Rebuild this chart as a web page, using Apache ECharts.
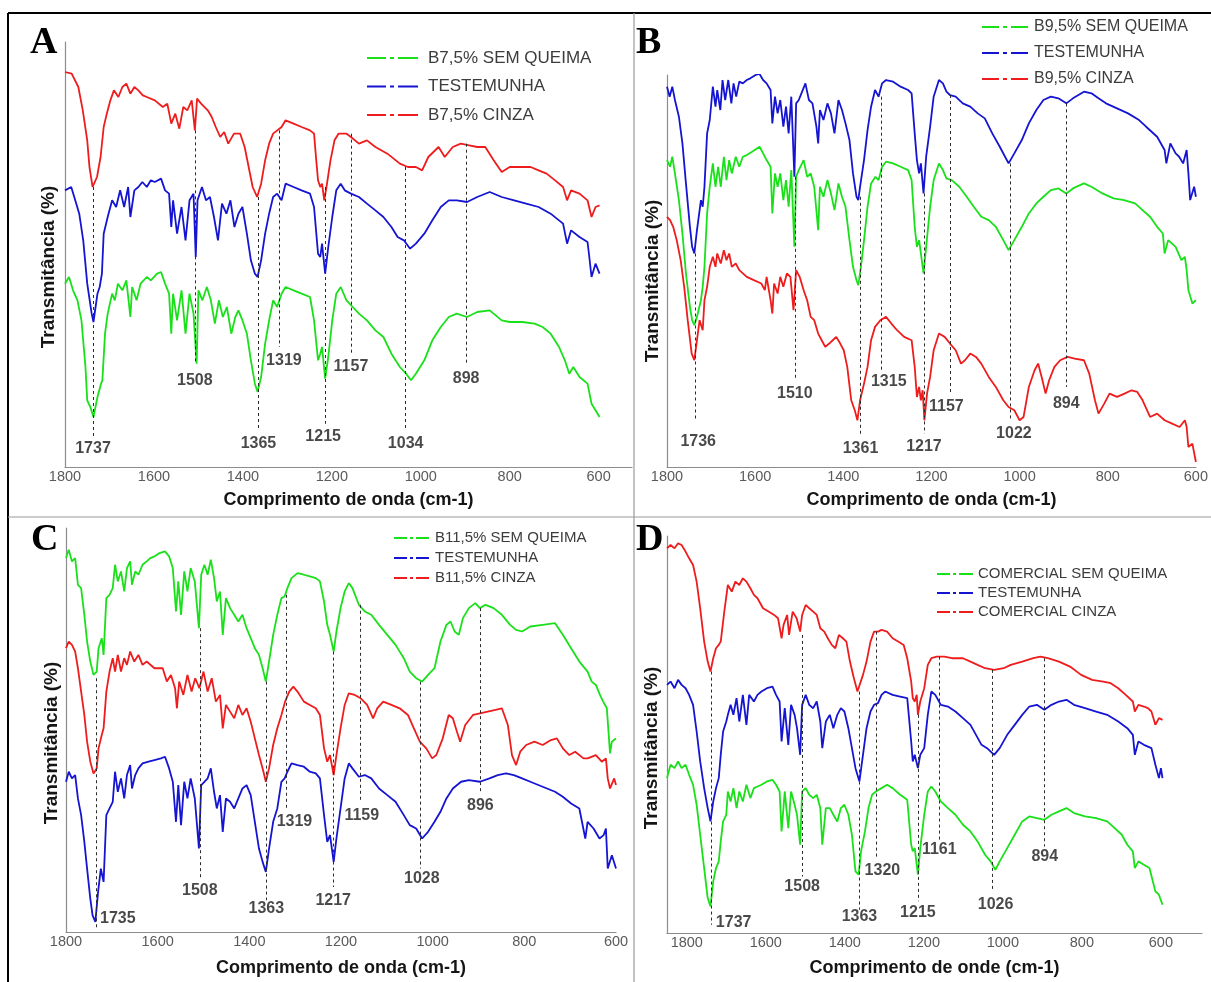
<!DOCTYPE html>
<html>
<head>
<meta charset="utf-8">
<title>FTIR - Transmitância</title>
<script src="https://cdn.jsdelivr.net/npm/echarts@6/dist/echarts.min.js"></script>
<style>
  html, body { margin: 0; padding: 0; background: #fff; }
  #chart { width: 1211px; height: 982px; }
</style>
</head>
<body>
<div id="chart"></div>
<script>
// tick labels of the wavenumber axes
const waveTicks = [1800, 1600, 1400, 1200, 1000, 800, 600]

// ---- A : B7,5% ----
const semA = [[1800,55],[1791,57],[1782,53],[1772,50],[1763,44],[1754,30],[1750,20],[1743,18],[1736,15],[1727,21],[1719,25],[1716,26],[1710,40],[1704,46],[1694,52],[1688,50],[1681,55],[1671,53],[1662,56],[1653,45],[1649,54],[1639,50],[1630,55],[1616,57],[1607,56],[1593,58],[1584,58.5],[1575,55],[1566,52],[1561,40],[1557,52],[1548,44],[1538,53],[1529,40],[1520,52],[1511,46],[1504,31],[1500,53],[1491,50],[1481,54],[1472,50],[1463,43],[1454,50],[1445,45],[1436,48],[1426,40],[1417,45],[1410,47],[1401,44],[1391,40],[1382,32],[1373,25],[1367,22.5],[1359,27],[1350,37],[1341,44],[1332,50],[1323,48],[1313,52],[1304,54],[1286,53],[1268,52],[1249,51],[1240,44],[1231,32],[1226,34],[1222,36],[1215,26.5],[1208,33],[1199,44],[1190,52],[1180,54],[1167,50],[1153,48],[1139,46],[1121,44],[1102,41],[1084,39],[1066,34],[1047,30],[1033,28],[1022,26],[1011,28],[992,32],[974,38],[955,42],[937,45],[919,46],[896,45],[873,46.5],[845,47],[818,44],[800,43.5],[772,43.5],[744,43],[726,42],[708,40],[689,36],[676,32],[666,28],[657,30],[643,27],[625,25],[616,19],[607,17],[598,15]]
const testA = [[1800,83],[1786,84],[1777,80],[1768,76],[1759,68],[1750,55],[1740,46],[1736,43.5],[1727,52],[1722,54],[1717,58],[1713,70],[1704,75],[1694,80],[1685,78],[1676,83],[1667,78],[1658,84],[1653,75],[1644,83],[1635,84],[1626,85.5],[1616,84],[1607,86],[1598,85.5],[1584,86.5],[1575,83],[1566,82],[1561,72],[1557,80],[1548,70],[1538,78],[1529,68],[1520,80],[1511,82],[1506,63],[1502,80],[1492,84],[1483,80],[1474,81],[1465,75],[1456,68],[1447,79],[1437,76],[1428,80],[1419,72],[1410,76],[1401,78],[1391,70],[1382,62],[1373,58],[1367,57],[1359,62],[1350,70],[1341,76],[1332,81],[1323,82],[1313,80],[1304,85],[1286,84],[1268,83],[1249,82],[1240,78],[1231,64],[1226,63],[1222,67],[1215,58],[1208,66],[1199,75],[1190,83],[1180,85],[1171,83],[1157,82],[1139,81],[1121,79],[1102,77],[1084,75],[1066,72],[1052,69],[1038,68],[1024,65.5],[1011,67],[992,70],[974,74],[955,78],[937,80],[919,80],[896,79.5],[873,81],[845,82.5],[818,81],[790,80],[763,79],[735,78],[708,76],[680,73],[671,67],[662,71],[643,69],[625,67.5],[621,63],[616,57],[607,61],[598,58]]
const cinzaA = [[1800,118.5],[1785,118],[1770,114],[1760,107],[1750,98],[1745,90],[1738,84],[1728,87],[1720,93],[1713,102],[1706,106],[1698,110],[1690,113],[1680,111],[1671,114],[1662,115],[1653,112],[1644,114],[1635,113],[1625,111.5],[1616,111],[1598,110],[1580,108],[1570,109],[1561,103],[1552,106],[1543,101.5],[1534,108],[1525,107],[1515,110],[1508,101],[1503,110.5],[1494,109],[1479,107],[1470,105],[1461,102],[1451,99],[1442,100.5],[1433,97],[1420,100],[1406,100],[1396,96],[1387,90],[1378,84],[1368,81],[1359,85],[1350,92],[1341,97],[1332,100],[1313,102],[1304,104],[1286,103],[1268,102],[1249,101],[1240,100],[1235,92],[1231,86],[1226,84],[1222,85],[1217,80],[1212,84],[1203,92],[1194,98],[1185,100],[1167,100],[1157,99],[1139,97],[1121,98],[1102,96],[1075,94],[1047,91],[1029,90],[1011,90],[997,89],[983,93],[960,96],[946,93],[928,96],[910,97],[891,96.5],[873,96],[855,96],[836,92],[818,88.5],[800,90],[772,90],[753,90],[735,89],[717,88],[698,86],[680,84],[671,80],[662,83],[643,82],[625,80],[616,75],[607,78],[598,78.5]]
const peakWnA = [1737, 1508, 1365, 1319, 1215, 1157, 1034, 898]
const peakTopA = [84, 101, 81, 101, 84, 100, 90, 97]
const peakEndA = [9, 31, 11, 36, 13, 34, 11, 31]
const peakLabA = [5.5, 26, 7, 32, 9, 30, 7, 26.5]

// ---- B : B9,5% ----
const semB = [[1800,92],[1793,90],[1788,93],[1782,88],[1773,80],[1765,70],[1757,58],[1748,48],[1743,44],[1738,42.5],[1732,45],[1723,50],[1719,54],[1715,60],[1709,76],[1703,84],[1696,91],[1690,84],[1684,90],[1678,84],[1671,93],[1665,86],[1659,92],[1653,88],[1644,93],[1636,90],[1628,93],[1619,93.5],[1607,94.5],[1590,96],[1582,94],[1574,92],[1565,90],[1561,76],[1555,88],[1549,84],[1543,88],[1536,80],[1530,86],[1524,78],[1518,89],[1511,66],[1507,87],[1501,89],[1490,92],[1482,87],[1474,88],[1466,84],[1457,71],[1453,84],[1445,81],[1436,86],[1428,82],[1420,77],[1411,85],[1403,81],[1395,78],[1386,68],[1378,60],[1370,56],[1366,54.5],[1360,60],[1353,68],[1345,78],[1337,85],[1327,87],[1320,86],[1312,90],[1303,91.5],[1287,91],[1270,90],[1253,89],[1245,86],[1238,72],[1233,66],[1228,68],[1224,64],[1218,58],[1212,66],[1203,78],[1195,86],[1183,91],[1174,89],[1166,86.5],[1154,86],[1137,84],[1120,81],[1104,78],[1087,75],[1070,74],[1054,72],[1037,68],[1025,65],[1012,68],[995,72],[979,76],[962,79],[946,81],[929,83],[912,83.5],[894,82],[879,83.5],[854,85],[837,84],[812,82],[787,80.5],[763,80],[738,79],[721,77],[704,75],[688,72],[675,70],[671,64],[663,68],[646,66],[633,62],[625,63],[621,59],[617,53],[608,49],[600,50]]
const testB = [[1800,114],[1794,111],[1788,114],[1782,110],[1773,105],[1765,97],[1757,85],[1748,72],[1743,66],[1738,64],[1732,71],[1723,80],[1719,78],[1715,84],[1709,100],[1703,104],[1696,114],[1690,108],[1686,113],[1679,107],[1674,116],[1668,110],[1661,116],[1654,109],[1649,115],[1643,111],[1636,115.5],[1628,115],[1619,116],[1611,116.5],[1599,117.5],[1590,117.8],[1582,116],[1574,115],[1565,113],[1561,103],[1555,111],[1549,106],[1543,110],[1536,102],[1530,108],[1524,100],[1518,111],[1511,87],[1507,109],[1501,110],[1495,112],[1486,115],[1478,110],[1470,109],[1461,102],[1457,97],[1453,107],[1445,104],[1436,109],[1428,106],[1420,100],[1411,110],[1403,107],[1395,103],[1386,98],[1378,88],[1370,81],[1366,80],[1362,84],[1353,92],[1345,101],[1337,108],[1328,113],[1320,111],[1312,115],[1303,116],[1287,115.5],[1270,114],[1253,113],[1245,112],[1238,100],[1233,92],[1228,88],[1224,91],[1218,82],[1212,93],[1203,102],[1195,111],[1183,116],[1174,115],[1166,112.5],[1158,111.5],[1145,111],[1129,109],[1112,108],[1095,106],[1079,104.5],[1062,100],[1045,96],[1033,93],[1025,91],[1012,94],[995,98],[979,103],[962,107],[946,110],[929,111],[912,110.5],[894,109],[879,110.5],[854,112.5],[837,112],[821,110.5],[804,109],[779,107.5],[754,106],[729,104],[713,102],[688,99],[671,95],[667,91],[658,97],[646,94],[638,93],[629,91],[621,95],[617,88],[613,80],[604,84],[600,81]]
const cinzaB = [[1800,75],[1793,74],[1786,72],[1778,68],[1769,62],[1761,54],[1753,44],[1744,34],[1738,32],[1732,38],[1726,44],[1719,41],[1715,50],[1709,54],[1703,60],[1696,63],[1690,60],[1686,64],[1678,61],[1671,65],[1665,62],[1659,64],[1653,60],[1644,61],[1636,59],[1619,57],[1603,56],[1586,55],[1578,53],[1574,57],[1565,50],[1561,46],[1557,55],[1549,52],[1543,57],[1536,54],[1528,58],[1520,57],[1513,47],[1507,59],[1499,57],[1490,53],[1482,50],[1474,45],[1466,44],[1457,40],[1449,38],[1441,36],[1432,37],[1424,38],[1416,39],[1407,37],[1399,35],[1391,30],[1382,20],[1374,17],[1368,14],[1362,20],[1353,25],[1345,30],[1337,38],[1328,42],[1316,44],[1303,45],[1291,43],[1278,41],[1262,39],[1245,38],[1238,30],[1233,21],[1228,24],[1224,20],[1220,23],[1216,14],[1210,22],[1203,27],[1195,35],[1183,40],[1170,39],[1158,37],[1145,35],[1133,31],[1124,32],[1112,34],[1099,33],[1087,31],[1070,27],[1054,24],[1037,20],[1025,18],[1012,17],[1000,14],[991,15],[979,24],[966,29],[958,31],[950,27],[941,22],[933,26],[921,30],[908,32],[891,33],[875,32.5],[854,32],[842,28],[829,20],[821,16],[808,19],[796,22],[779,21],[762,22],[746,23],[733,22.5],[721,20],[704,15],[688,16],[671,14],[654,13],[637,12],[625,14],[621,12],[617,6],[608,7],[600,1.5]]
const peakWnB = [1736, 1510, 1361, 1315, 1217, 1157, 1022, 894]
const peakTopB = [64, 87, 81, 111, 82, 111.5, 91, 109]
const peakEndB = [14, 26, 10, 29, 10, 22, 14, 24]
const peakLabB = [7.5, 22, 5.5, 25.5, 6, 18, 10, 19]

// ---- C : B11,5% ----
const semC = [[1800,112],[1794,114.5],[1787,111],[1780,112],[1774,104],[1767,103],[1760,95],[1754,87],[1747,81],[1740,77],[1733,78],[1729,85],[1722,88],[1718,83],[1712,100],[1705,101],[1698,103],[1693,110],[1687,105],[1680,108],[1673,102],[1667,109],[1660,111],[1656,104],[1649,108],[1642,107],[1633,110],[1624,111],[1616,112],[1607,112.5],[1596,113.5],[1584,114],[1575,112.5],[1567,109],[1560,96],[1555,105],[1549,95],[1542,108],[1535,102],[1528,109],[1519,105],[1510,91],[1505,107],[1498,110],[1491,107],[1484,111.5],[1477,106],[1471,99],[1464,102],[1458,89],[1451,100],[1442,97],[1433,95],[1424,93],[1415,95],[1406,91],[1397,88],[1388,85],[1379,83],[1371,79],[1364,75],[1357,81],[1348,89],[1339,95],[1330,100],[1323,100.5],[1317,103],[1308,106],[1295,107.5],[1281,107],[1268,106.5],[1255,106],[1246,105],[1237,99],[1230,92],[1224,89],[1216,84],[1210,90],[1201,97],[1192,102],[1183,104.5],[1175,103],[1161,98],[1148,96],[1134,95],[1117,92],[1099,89],[1081,86],[1063,82],[1050,78],[1036,76],[1023,75],[1010,77],[996,79],[983,87],[970,92],[961,93],[952,90],[943,89],[934,94],[921,97],[907,98.5],[897,97],[885,98],[867,97],[849,95],[831,92],[818,90.5],[805,90],[787,91.5],[760,92],[733,92.5],[716,89],[698,85],[680,81],[662,78],[653,75],[644,74],[635,71],[628,69],[620,67],[613,53.5],[609,57],[600,58]]
const testC = [[1800,45],[1794,48],[1787,46],[1780,47],[1774,40],[1767,35],[1760,27],[1754,19],[1747,10],[1742,5],[1736,3],[1730,12],[1724,19],[1718,15],[1712,35],[1705,37],[1698,39],[1693,48],[1687,42],[1680,46],[1673,40],[1667,47],[1660,50],[1656,43],[1649,47],[1642,49],[1633,50.5],[1620,51],[1607,51.5],[1593,52],[1584,52.5],[1575,49],[1567,45],[1560,33],[1555,44],[1549,32],[1542,45],[1535,40],[1528,46],[1519,40],[1510,25],[1505,44],[1498,45],[1491,46],[1484,49],[1477,42],[1471,37],[1464,41],[1458,30],[1451,40],[1442,39],[1433,37],[1424,40],[1415,43],[1406,44],[1397,41],[1388,33],[1379,25],[1371,21],[1364,18],[1357,25],[1348,33],[1339,37],[1330,45],[1323,46],[1317,48],[1308,50.5],[1295,50],[1281,49.5],[1268,48],[1255,47.5],[1246,46],[1237,35],[1230,27],[1224,29],[1216,21],[1210,28],[1201,37],[1192,46],[1183,50.5],[1175,49],[1161,46.5],[1148,47],[1134,46],[1117,43],[1099,41],[1081,39],[1063,35],[1050,32],[1036,31],[1023,28],[1010,30],[996,33],[983,36],[970,40],[956,43],[938,45],[921,45.5],[897,45],[876,46],[858,47],[840,47.5],[823,47],[805,46],[787,45],[760,43.5],[733,42],[716,40.5],[698,38.5],[680,37],[667,28],[662,33],[649,31],[636,28],[627,29],[622,31],[618,19],[609,23],[600,19]]
const cinzaC = [[1800,85],[1794,87],[1787,86],[1780,84],[1774,79],[1767,72],[1760,65],[1754,57],[1747,51],[1740,47.5],[1733,49],[1729,55],[1722,59],[1718,61],[1712,72],[1705,78],[1698,82],[1693,78],[1687,83],[1680,78],[1673,82],[1667,80],[1660,84],[1651,81],[1642,83],[1633,80],[1624,81],[1607,79],[1589,79],[1580,75],[1571,77],[1562,73],[1558,67],[1553,75],[1544,71],[1535,77],[1526,72],[1518,76],[1509,73],[1500,78],[1491,72],[1482,76],[1473,69],[1464,71],[1458,61],[1451,68],[1442,66],[1433,64],[1424,68],[1415,65],[1406,67],[1397,63],[1388,58],[1379,53],[1371,49],[1364,45],[1357,49],[1348,56],[1339,61],[1330,65],[1322,69],[1313,72],[1304,73.5],[1295,72],[1281,69],[1268,68],[1255,67],[1246,65],[1237,55],[1230,51],[1224,53],[1216,47],[1210,53],[1201,61],[1192,68],[1183,71.5],[1170,71],[1157,70],[1143,68],[1130,64],[1121,67],[1108,69],[1090,68],[1072,67],[1054,65],[1041,61],[1028,57],[1014,55],[1001,52],[992,53],[978,58],[965,65],[956,64],[947,60],[940,57],[929,62],[912,65],[897,65.5],[880,66],[863,66.5],[849,67],[836,62],[827,53],[818,50],[809,54],[796,56],[778,57],[760,56],[742,57.5],[729,58],[716,55],[702,53],[689,54],[671,52],[662,52],[644,53],[631,51],[622,52],[618,46],[613,43],[604,46],[600,44]]
const peakWnC = [1735, 1508, 1363, 1319, 1217, 1159, 1028, 896]
const peakTopC = [76, 91, 75, 101, 84, 98, 75, 97]
const peakEndC = [0.5, 16, 9.5, 37, 13.5, 39, 19, 42]
const peakLabC = [4, 12.5, 7, 33, 9.5, 35, 16, 38]

// ---- D : COMERCIAL ----
const semD = [[1850,46.5],[1841,50.5],[1831,49.5],[1822,51.5],[1813,49.5],[1803,50.5],[1794,47.5],[1784,44.5],[1775,38.5],[1766,29.5],[1756,19.5],[1747,10.5],[1740,8],[1733,15.5],[1726,19.5],[1719,21.5],[1714,27.5],[1708,33.5],[1700,35.5],[1696,42.5],[1689,39.5],[1682,43.5],[1674,37.5],[1667,42.5],[1658,39.5],[1649,44.5],[1639,40.5],[1630,43.5],[1621,44],[1611,44.5],[1597,45.5],[1583,46],[1574,44.5],[1565,42.5],[1560,30.5],[1552,42.5],[1543,31.5],[1536,42.5],[1527,38.5],[1521,35.5],[1513,26.5],[1508,42.5],[1499,43.5],[1490,41.5],[1480,40.5],[1471,41.5],[1462,37.5],[1457,26.5],[1448,37.5],[1438,37.5],[1429,35.5],[1419,33.5],[1410,37.5],[1401,38.5],[1391,35.5],[1382,29.5],[1373,18.5],[1365,17.5],[1359,24.5],[1349,30.5],[1340,37.5],[1331,41.5],[1321,42.5],[1307,43.5],[1293,44.5],[1279,43.5],[1260,41.5],[1242,40],[1232,26.5],[1228,24.5],[1223,25.5],[1215,17.5],[1209,25.5],[1199,35.5],[1190,42.5],[1181,44],[1171,42.5],[1157,39.5],[1139,37.5],[1120,35.5],[1101,32.5],[1082,30.5],[1064,27.5],[1045,23.5],[1031,21.5],[1019,19],[1008,21.5],[989,25.5],[970,29.5],[951,33.5],[933,35],[914,34.5],[895,34],[877,35.5],[858,36.5],[839,37.5],[820,36],[792,35],[764,34.5],[736,33.5],[717,31.5],[699,29.5],[685,26.5],[671,24.5],[666,19.5],[657,21.5],[643,20.5],[629,19.5],[614,12.5],[605,11.5],[596,8.5]]
const testD = [[1850,74.5],[1841,75.5],[1831,73.5],[1822,76],[1813,74.5],[1803,73.5],[1794,71.5],[1784,68.5],[1775,60.5],[1766,51.5],[1756,43.5],[1747,37.5],[1740,33.5],[1733,39.5],[1726,43.5],[1719,46.5],[1714,53.5],[1708,60.5],[1700,63.5],[1696,65.5],[1689,68.5],[1682,65.5],[1674,70.5],[1667,63.5],[1658,71.5],[1649,62.5],[1642,71.5],[1630,69.5],[1621,71.5],[1611,72.5],[1597,73.5],[1583,74],[1574,71.5],[1565,69.5],[1560,57.5],[1552,67.5],[1543,56.5],[1536,68.5],[1527,65.5],[1521,61.5],[1513,53.5],[1508,68.5],[1499,71.5],[1490,68.5],[1480,67.5],[1471,69.5],[1462,63.5],[1457,55.5],[1448,63.5],[1438,65.5],[1429,61.5],[1419,65.5],[1410,67.5],[1401,66.5],[1391,61.5],[1382,55.5],[1373,49.5],[1363,45.5],[1354,53.5],[1345,61.5],[1335,66.5],[1326,68.5],[1316,69],[1307,71.5],[1298,72.5],[1279,71.5],[1260,71],[1242,70.5],[1232,57.5],[1228,51.5],[1223,53.5],[1215,49.5],[1209,53.5],[1199,55.5],[1190,65.5],[1181,72.5],[1171,71.5],[1157,68.5],[1139,68],[1120,66.5],[1101,64.5],[1082,62.5],[1068,59.5],[1054,56.5],[1040,55.5],[1022,53.5],[1008,55.5],[989,59.5],[970,62.5],[951,65.5],[933,68],[914,68.5],[895,67],[877,68.5],[858,69.5],[839,70],[820,68.5],[792,67.5],[764,66.5],[736,65.5],[708,63.5],[685,61.5],[671,59.5],[666,53.5],[657,57.5],[643,56.5],[624,55.5],[614,50.5],[605,46.5],[600,49.5],[596,46.5]]
const cinzaD = [[1850,115.5],[1841,116.5],[1831,115.5],[1822,117],[1813,116.5],[1803,114.5],[1794,112.5],[1784,110.5],[1775,105.5],[1766,97.5],[1756,87.5],[1747,81.5],[1740,78.5],[1733,82.5],[1726,85.5],[1719,86.5],[1714,87.5],[1705,96.5],[1696,104.5],[1686,102.5],[1677,105.5],[1667,104.5],[1658,106.5],[1649,105.5],[1639,103.5],[1630,101.5],[1621,100.5],[1607,97.5],[1593,96.5],[1579,95.5],[1569,94.5],[1560,88.5],[1555,92.5],[1546,95.5],[1541,89.5],[1532,96.5],[1522,94.5],[1513,90.5],[1508,95.5],[1499,98.5],[1490,97.5],[1480,96.5],[1471,95.5],[1462,91.5],[1452,90.5],[1443,88.5],[1433,86.5],[1424,85.5],[1415,89.5],[1405,88.5],[1396,87.5],[1387,81.5],[1377,76.5],[1368,72.5],[1363,72],[1354,77.5],[1345,81.5],[1335,87.5],[1326,90.5],[1316,90.5],[1307,91],[1293,90.5],[1279,88.5],[1265,87.5],[1251,86.5],[1242,82.5],[1232,75.5],[1228,70.5],[1223,69.5],[1218,71.5],[1215,65.5],[1209,69.5],[1199,73.5],[1190,80.5],[1181,82.5],[1167,83],[1148,83],[1129,82.5],[1101,82.5],[1082,81.5],[1064,80.5],[1045,79.5],[1022,79],[998,79.5],[980,80.5],[951,81.5],[923,82.5],[905,83],[886,82.5],[858,81.5],[830,80],[802,77.5],[774,76],[746,75.5],[727,75],[708,73.5],[689,71.5],[671,69.5],[666,66.5],[657,68.5],[643,68],[633,67.5],[624,66.5],[614,62.5],[605,64.5],[596,64]]
const peakWnD = [1737, 1508, 1363, 1320, 1215, 1161, 1026, 894]
const peakTopD = [78.5, 89.5, 72.5, 90.5, 65.5, 83, 79, 82.5]
const peakEndD = [2.5, 17, 7, 22.5, 9.5, 28, 12.5, 26]
const peakLabD = [3, 14, 5, 18.7, 6, 25, 8.5, 23]

const GREEN = '#19e019'
const BLUE = '#1414d2'
const RED = '#ee1c1c'
const FONT = '"Liberation Sans", Arial, sans-serif'

// legend sample "— · —" drawn as a path, one per legend width
function dashDotIcon(w) {
  const a = Math.round(w * 0.37)
  const dot = Math.max(3, Math.round(w * 0.08))
  const g = Math.max(3, Math.round(w * 0.08))
  const b = a + g
  const c = b + dot + g
  return 'path://M0,0H' + a + 'V2H0Z M' + b + ',0H' + (b + dot) + 'V2H' + b + 'Z M' + c + ',0H' + w + 'V2H' + c + 'Z'
}

const panels = [
  {
    letter: 'A', letterAt: [30, 43],
    grid: { left: 65, top: 42, width: 567, height: 425 },
    xMin: 525, xMax: 1800, yMax: 127.5, nameGap: 24,
    xTitle: 'Comprimento de onda (cm-1)', yTitleAt: [49, 267],
    names: ['B7,5% SEM QUEIMA', 'TESTEMUNHA', 'B7,5% CINZA'],
    data: [semA, testA, cinzaA],
    peaks: [peakWnA, peakTopA, peakEndA, peakLabA],
    shift: { 1319: 5, 1215: -2 },
    legend: { left: 367, top: 49.5, itemWidth: 51, fontSize: 17, itemGap: 11.5, pad: 5 }
  },
  {
    letter: 'B', letterAt: [636, 43],
    grid: { left: 667, top: 75, width: 535, height: 392 },
    xMin: 600, xMax: 1800, yMax: 117.5, nameGap: 24,
    xTitle: 'Comprimento de onda (cm-1)', yTitleAt: [653, 281],
    names: ['B9,5% SEM QUEIMA', 'TESTEMUNHA', 'B9,5% CINZA'],
    data: [semB, testB, cinzaB],
    peaks: [peakWnB, peakTopB, peakEndB, peakLabB],
    shift: { 1736: 3, 1315: 8, 1157: -4, 1022: 4 },
    legend: { left: 982, top: 19, itemWidth: 46, fontSize: 16, itemGap: 10, pad: 1 }
  },
  {
    letter: 'C', letterAt: [31, 540],
    grid: { left: 66, top: 528, width: 550, height: 404 },
    xMin: 600, xMax: 1800, yMax: 121, nameGap: 27,
    xTitle: 'Comprimento de onda (cm-1)', yTitleAt: [52, 743],
    names: ['B11,5% SEM QUEIMA', 'TESTEMUNHA', 'B11,5% CINZA'],
    data: [semC, testC, cinzaC],
    peaks: [peakWnC, peakTopC, peakEndC, peakLabC],
    shift: { 1735: 22, 1319: 8, 1159: 2, 1028: 2 },
    legend: { left: 394, top: 530.5, itemWidth: 35, fontSize: 15, itemGap: 5, pad: 1 }
  },
  {
    letter: 'D', letterAt: [636, 540],
    grid: { left: 667, top: 536, width: 535, height: 397 },
    xMin: 496, xMax: 1850, yMax: 119.2, nameGap: 26,
    xTitle: 'Comprimento de onde (cm-1)', yTitleAt: [652, 748],
    names: ['COMERCIAL SEM QUEIMA', 'TESTEMUNHA', 'COMERCIAL CINZA'],
    data: [semD, testD, cinzaD],
    peaks: [peakWnD, peakTopD, peakEndD, peakLabD],
    shift: { 1737: 22, 1320: 6, 1026: 3 },
    legend: { left: 937, top: 566.5, itemWidth: 36, fontSize: 15, itemGap: 4, pad: 0 }
  }
]

const colors = [GREEN, BLUE, RED]
const grids = []
const xAxes = []
const yAxes = []
const legends = []
const series = []
const graphics = []

panels.forEach((p, i) => {
  grids.push(p.grid)
  xAxes.push({
    type: 'value',
    gridIndex: i,
    min: p.xMin,
    max: p.xMax,
    inverse: true,
    axisLine: { show: true, onZero: false, lineStyle: { color: '#8c8c8c', width: 1.2 } },
    axisTick: { show: false },
    splitLine: { show: false },
    axisLabel: {
      customValues: waveTicks,
      formatter: v => String(v),
      color: '#5a5a5a',
      fontSize: 14.5,
      fontFamily: FONT,
      margin: 2
    },
    name: p.xTitle,
    nameLocation: 'middle',
    nameGap: p.nameGap,
    nameTextStyle: { fontSize: 18, fontWeight: 'bold', color: '#151515', fontFamily: FONT }
  })
  yAxes.push({
    type: 'value',
    gridIndex: i,
    min: 0,
    max: p.yMax,
    position: 'left',
    axisLine: { show: true, onZero: false, lineStyle: { color: '#8c8c8c', width: 1.2 } },
    axisTick: { show: false },
    axisLabel: { show: false },
    splitLine: { show: false }
  })
  legends.push({
    orient: 'vertical',
    left: p.legend.left,
    top: p.legend.top,
    padding: 0,
    itemWidth: p.legend.itemWidth,
    itemHeight: 2.2,
    itemGap: p.legend.itemGap,
    selectedMode: false,
    icon: dashDotIcon(p.legend.itemWidth),
    data: p.names,
    textStyle: { fontSize: p.legend.fontSize, color: '#3c3c3c', fontFamily: FONT, padding: [0, 0, 0, p.legend.pad] }
  })

  p.names.forEach((name, k) => {
    series.push({
      name: name,
      type: 'line',
      xAxisIndex: i,
      yAxisIndex: i,
      data: p.data[k],
      symbol: 'none',
      smooth: false,
      color: colors[k],
      lineStyle: { color: colors[k], width: 1.8 },
      silent: true,
      z: 2
    })
  })

  // dashed peak lines and the wavenumber labels
  const [wn, top, end, lab] = p.peaks
  series.push({
    type: 'scatter',
    xAxisIndex: i,
    yAxisIndex: i,
    symbolSize: 0,
    silent: true,
    z: 4,
    data: wn.map((w, j) => ({
      value: [w, lab[j]],
      label: { offset: [p.shift[w] || 0, 0] }
    })),
    label: {
      show: true,
      position: 'inside',
      formatter: d => String(d.value[0]),
      fontSize: 16,
      fontWeight: 'bold',
      color: '#1a1a1a',
      fontFamily: FONT
    },
    markLine: {
      silent: true,
      symbol: ['none', 'none'],
      animation: false,
      label: { show: false },
      lineStyle: { type: [3, 3], color: '#2a2a2a', width: 1 },
      data: wn.map((w, j) => [{ coord: [w, top[j]] }, { coord: [w, end[j]] }])
    }
  })

  graphics.push({
    type: 'text',
    x: p.letterAt[0],
    y: p.letterAt[1],
    style: {
      text: p.letter,
      font: 'bold 38px "Liberation Serif", "Times New Roman", serif',
      fill: '#000',
      textAlign: 'left',
      textVerticalAlign: 'middle'
    }
  })
  graphics.push({
    type: 'text',
    x: p.yTitleAt[0],
    y: p.yTitleAt[1],
    rotation: Math.PI / 2,
    style: {
      text: 'Transmitância (%)',
      font: 'bold 19px ' + FONT,
      fill: '#151515',
      textAlign: 'center',
      textVerticalAlign: 'middle'
    }
  })
})

// frame of the figure and the panel dividers
graphics.push(
  { type: 'line', shape: { x1: 8, y1: 13, x2: 1211, y2: 13 }, style: { stroke: '#000', lineWidth: 2 } },
  { type: 'line', shape: { x1: 8, y1: 13, x2: 8, y2: 982 }, style: { stroke: '#000', lineWidth: 2 } },
  { type: 'line', shape: { x1: 634, y1: 13, x2: 634, y2: 982 }, style: { stroke: '#9a9a9a', lineWidth: 1.2 } },
  { type: 'line', shape: { x1: 8, y1: 517, x2: 1211, y2: 517 }, style: { stroke: '#9a9a9a', lineWidth: 1.2 } }
)

const chart = echarts.init(document.getElementById('chart'), null, { renderer: 'canvas' })
chart.setOption({
  animation: false,
  backgroundColor: '#fff',
  grid: grids,
  xAxis: xAxes,
  yAxis: yAxes,
  legend: legends,
  series: series,
  graphic: graphics
})
</script>
</body>
</html>
